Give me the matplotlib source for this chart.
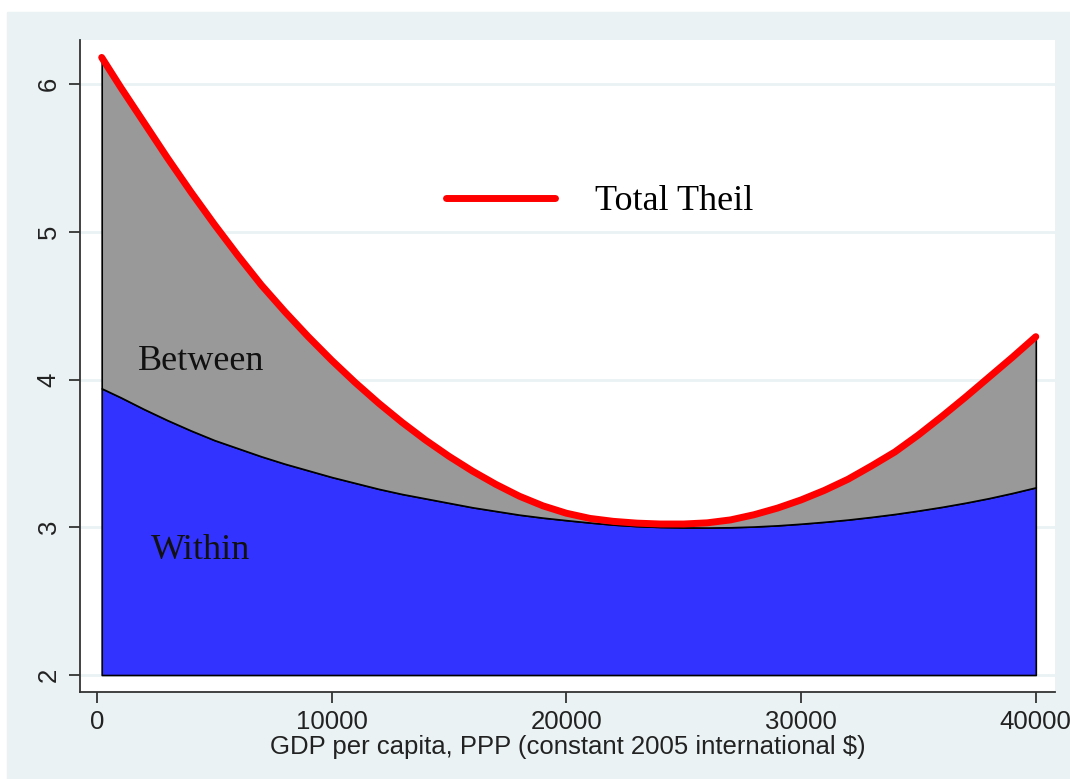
import numpy as np
import matplotlib
matplotlib.use("Agg")
import matplotlib.pyplot as plt
from matplotlib.patches import Rectangle

# GDP per capita grid (PPP, constant 2005 intl $)
gdp = [200, 1000, 2000, 3000, 4000, 5000, 6000, 7000, 8000, 9000, 10000,
       11000, 12000, 13000, 14000, 15000, 16000, 17000, 18000, 19000, 20000,
       21000, 22000, 23000, 24000, 25000, 26000, 27000, 28000, 29000, 30000,
       31000, 32000, 33000, 34000, 35000, 36000, 37000, 38000, 39000, 40000]
# total Theil index
total_theil = [6.18, 5.98, 5.74, 5.50, 5.27, 5.05, 4.84, 4.64, 4.46, 4.29, 4.13,
               3.98, 3.84, 3.71, 3.59, 3.48, 3.38, 3.29, 3.21, 3.145, 3.095,
               3.06, 3.04, 3.028, 3.022, 3.022, 3.03, 3.05, 3.085, 3.13, 3.185,
               3.25, 3.325, 3.415, 3.51, 3.625, 3.75, 3.88, 4.015, 4.15, 4.29]
# within-country component
within = [3.94, 3.88, 3.80, 3.725, 3.655, 3.59, 3.535, 3.48, 3.43, 3.385, 3.34,
          3.30, 3.26, 3.225, 3.195, 3.165, 3.135, 3.11, 3.085, 3.065, 3.048,
          3.032, 3.018, 3.008, 3.002, 2.999, 2.998, 3.0, 3.005, 3.013, 3.024,
          3.037, 3.052, 3.07, 3.09, 3.113, 3.138, 3.166, 3.197, 3.232, 3.27]
base = 2.0

xticks = [0, 10000, 20000, 30000, 40000]
yticks = [2, 3, 4, 5, 6]

bg = '#eaf2f3'
sans = ['Liberation Sans', 'DejaVu Sans']
serif = ['Liberation Serif', 'DejaVu Serif']

fig = plt.figure(figsize=(10.7, 7.79), dpi=100, facecolor='white')
# stata-like outer panel
fig.patches.append(Rectangle((7 / 1070, 0), 1, (779 - 12) / 779,
                             transform=fig.transFigure, color=bg, zorder=-1))
ax = fig.add_axes([80 / 1070, 87 / 779, 975 / 1070, 652 / 779])
ax.set_facecolor('white')

x = np.array(gdp)
ax.fill_between(x, base, within, facecolor='#3333ff', edgecolor='black',
                linewidth=1.2, zorder=2)
ax.fill_between(x, within, total_theil, facecolor='#999999', edgecolor='black',
                linewidth=1.2, zorder=2)
ax.plot(x, total_theil, color='#ff0000', linewidth=5, solid_capstyle='round',
        solid_joinstyle='round', zorder=3, label='Total Theil')

ax.text(4430, 4.12, 'Between', fontsize=26, family=serif, color='#111111',
        ha='center', va='center', zorder=4)
ax.text(4390, 2.84, 'Within', fontsize=26, family=serif, color='#111111',
        ha='center', va='center', zorder=4)

leg = ax.legend(loc='center', bbox_to_anchor=(0.533, 0.752), frameon=False,
                handlelength=3.0, handletextpad=1.1,
                prop={'family': serif, 'size': 26})

ax.set_xlim(-724, 40818)
ax.set_ylim(1.885, 6.298)
ax.set_xticks(xticks)
ax.set_yticks(yticks)
ax.set_xticklabels([str(v) for v in xticks], family=sans, fontsize=18.5)
ax.set_yticklabels([str(v) for v in yticks], family=sans, fontsize=18.5,
                   rotation=90, va='center')
ax.tick_params(axis='both', direction='out', length=8, width=1.3,
               color='#333333', labelcolor='#222222')
ax.tick_params(axis='x', pad=5)
ax.tick_params(axis='y', pad=6)

ax.grid(axis='y', color=bg, linewidth=2, zorder=0)
ax.set_axisbelow(True)
for side in ['top', 'right']:
    ax.spines[side].set_visible(False)
for side in ['left', 'bottom']:
    ax.spines[side].set_color('#333333')
    ax.spines[side].set_linewidth(1.3)

ax.set_xlabel('GDP per capita, PPP (constant 2005 international $)',
              family=sans, fontsize=18.5, color='#222222', labelpad=1)

fig.savefig('out.png', dpi=100, facecolor=fig.get_facecolor())
